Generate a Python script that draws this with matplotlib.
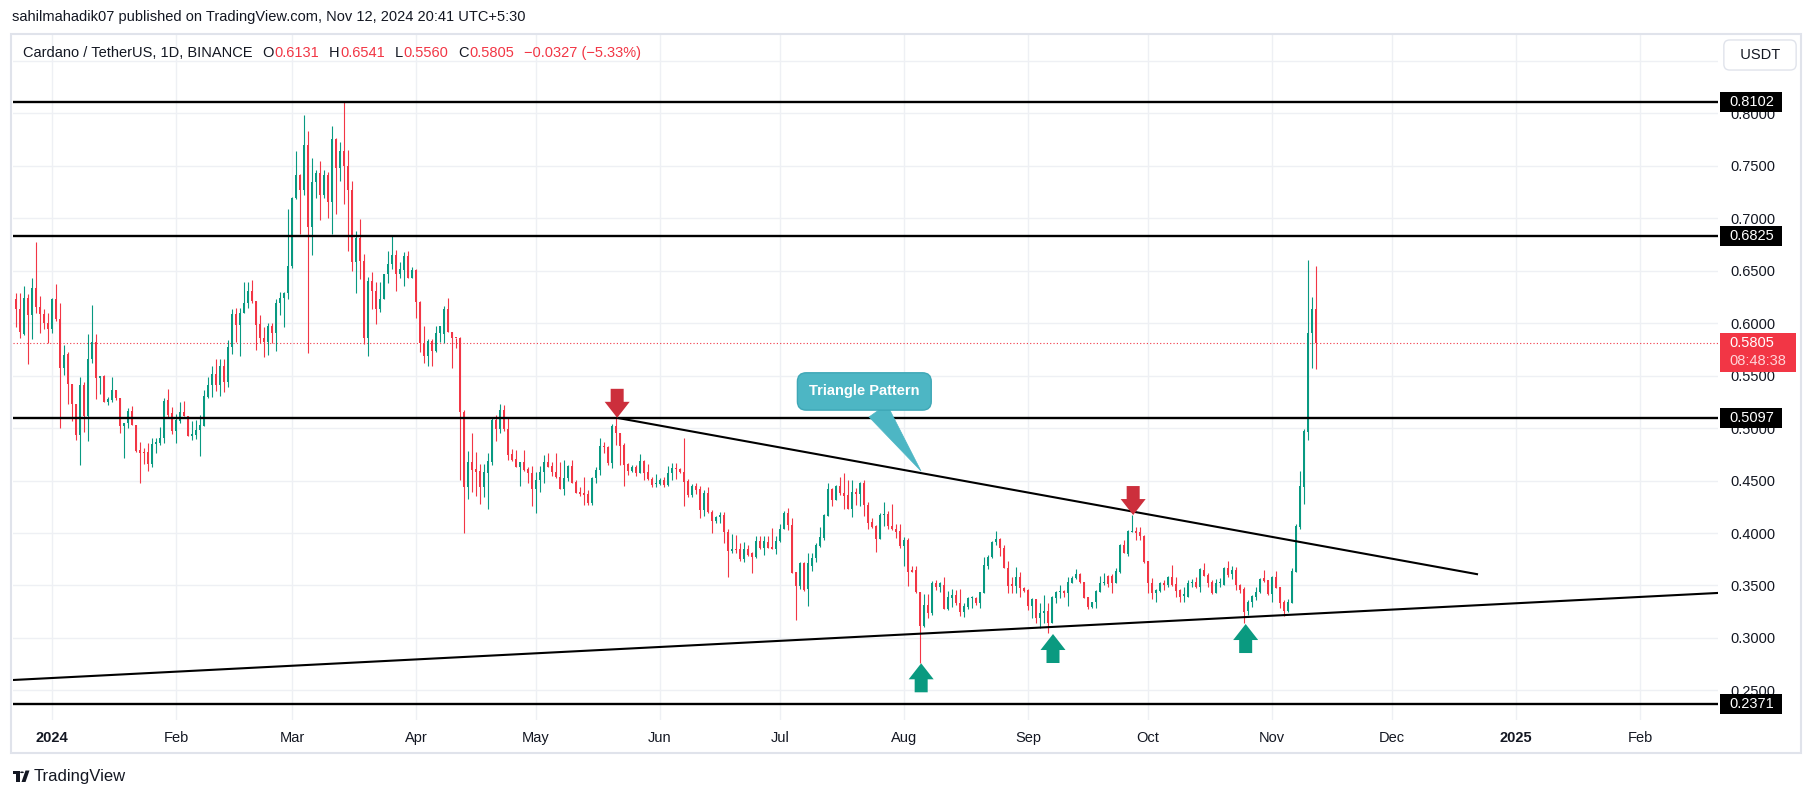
import numpy as np
import pandas as pd
import matplotlib
matplotlib.use('Agg')
import matplotlib.pyplot as plt
import matplotlib.transforms as mtransforms
from matplotlib.patches import Rectangle, Polygon, Circle

plt.rcParams['font.family'] = ['Liberation Sans', 'DejaVu Sans']

# ADA/USDT daily candles, 23 Dec 2023 .. 12 Nov 2024
start_date = '2023-12-23'
opens = [
    0.6229, 0.6133, 0.5895, 0.6235, 0.6076, 0.6330, 0.6156, 0.6083, 0.6003, 0.5940,
    0.6229, 0.6038, 0.5568, 0.5705, 0.5416, 0.5225, 0.4937, 0.5410, 0.5117, 0.5657,
    0.5816, 0.5473, 0.5495, 0.5251, 0.5267, 0.5362, 0.5283, 0.5022, 0.5044, 0.5165,
    0.5032, 0.4790, 0.4771, 0.4771, 0.4657, 0.4848, 0.4860, 0.4905, 0.5267, 0.5146,
    0.4975, 0.5070, 0.5156, 0.5117, 0.4927, 0.4937, 0.4981, 0.5022, 0.5298, 0.5410,
    0.5514, 0.5410, 0.5594, 0.5441, 0.5768, 0.6086, 0.5981, 0.6092, 0.6187, 0.6305,
    0.6213, 0.5990, 0.5860, 0.5822, 0.5971, 0.5908, 0.6194, 0.6241, 0.6289, 0.6543,
    0.7194, 0.7410, 0.7267, 0.7695, 0.6917, 0.7340, 0.7425, 0.7219, 0.7410, 0.7156,
    0.7752, 0.7473, 0.7641, 0.7495, 0.7267, 0.6584, 0.6813, 0.6590, 0.5860, 0.6400,
    0.6305, 0.6133, 0.6229, 0.6467, 0.6562, 0.6648, 0.6467, 0.6505, 0.6638, 0.6432,
    0.6505, 0.6203, 0.5806, 0.5689, 0.5829, 0.5733, 0.5908, 0.5892, 0.6130, 0.5917,
    0.5860, 0.5854, 0.5155, 0.4441, 0.4673, 0.4606, 0.4590, 0.4441, 0.4574, 0.4679,
    0.5076, 0.4987, 0.5171, 0.4993, 0.4749, 0.4701, 0.4625, 0.4673, 0.4606, 0.4574,
    0.4416, 0.4504, 0.4578, 0.4680, 0.4638, 0.4581, 0.4536, 0.4416, 0.4527, 0.4641,
    0.4489, 0.4387, 0.4378, 0.4371, 0.4282, 0.4521, 0.4600, 0.4828, 0.4822, 0.4670,
    0.5022, 0.4949, 0.4838, 0.4654, 0.4593, 0.4632, 0.4575, 0.4685, 0.4581, 0.4517,
    0.4467, 0.4467, 0.4504, 0.4457, 0.4568, 0.4622, 0.4609, 0.4584, 0.4495, 0.4362,
    0.4451, 0.4416, 0.4219, 0.4384, 0.4203, 0.4117, 0.4149, 0.4171, 0.4013, 0.3832,
    0.3851, 0.3848, 0.3752, 0.3848, 0.3813, 0.3775, 0.3924, 0.3854, 0.3917, 0.3870,
    0.3848, 0.3924, 0.4035, 0.4194, 0.4076, 0.3632, 0.3498, 0.3717, 0.3464, 0.3686,
    0.3759, 0.3876, 0.3949, 0.4162, 0.4419, 0.4314, 0.4448, 0.4378, 0.4362, 0.4229,
    0.4394, 0.4371, 0.4479, 0.4267, 0.4108, 0.4070, 0.3943, 0.4171, 0.4178, 0.4070,
    0.4038, 0.4019, 0.3880, 0.3933, 0.3648, 0.3648, 0.3441, 0.3114, 0.3314, 0.3241,
    0.3527, 0.3483, 0.3500, 0.3276, 0.3384, 0.3410, 0.3330, 0.3251, 0.3298, 0.3378,
    0.3384, 0.3330, 0.3425, 0.3689, 0.3775, 0.3914, 0.3946, 0.3854, 0.3670, 0.3510,
    0.3498, 0.3584, 0.3479, 0.3457, 0.3308, 0.3371, 0.3187, 0.3241, 0.3257, 0.3146,
    0.3384, 0.3441, 0.3451, 0.3425, 0.3521, 0.3571, 0.3610, 0.3537, 0.3394, 0.3298,
    0.3340, 0.3441, 0.3521, 0.3591, 0.3594, 0.3521, 0.3632, 0.3886, 0.3800, 0.4013,
    0.4019, 0.4013, 0.3971, 0.3733, 0.3527, 0.3432, 0.3451, 0.3527, 0.3505, 0.3584,
    0.3514, 0.3454, 0.3400, 0.3394, 0.3527, 0.3537, 0.3483, 0.3648, 0.3600, 0.3537,
    0.3425, 0.3521, 0.3505, 0.3664, 0.3606, 0.3648, 0.3505, 0.3464, 0.3260, 0.3340,
    0.3394, 0.3441, 0.3575, 0.3552, 0.3416, 0.3584, 0.3489, 0.3346, 0.3260, 0.3337,
    0.3626, 0.4054, 0.4441, 0.4965, 0.5902, 0.6131,
]
highs = [
    0.6283, 0.6283, 0.6352, 0.6273, 0.6425, 0.6768, 0.6257, 0.6130, 0.6092, 0.6241,
    0.6371, 0.6187, 0.5790, 0.5721, 0.5416, 0.5225, 0.5489, 0.5435, 0.5895, 0.6171,
    0.5895, 0.5495, 0.5505, 0.5298, 0.5483, 0.5362, 0.5290, 0.5051, 0.5187, 0.5213,
    0.5032, 0.4863, 0.4813, 0.4854, 0.4908, 0.4908, 0.5013, 0.5289, 0.5371, 0.5197,
    0.5133, 0.5251, 0.5260, 0.5117, 0.5070, 0.5076, 0.5124, 0.5362, 0.5489, 0.5594,
    0.5657, 0.5657, 0.5657, 0.5838, 0.6130, 0.6140, 0.6140, 0.6394, 0.6394, 0.6410,
    0.6213, 0.6076, 0.5965, 0.5997, 0.5997, 0.6225, 0.6298, 0.6298, 0.7086, 0.7203,
    0.7641, 0.7419, 0.7981, 0.7829, 0.7568, 0.7457, 0.7543, 0.7457, 0.7441, 0.7876,
    0.7765, 0.7727, 0.8102, 0.7648, 0.7356, 0.6876, 0.6990, 0.6657, 0.6441, 0.6483,
    0.6387, 0.6394, 0.6467, 0.6686, 0.6838, 0.6695, 0.6578, 0.6679, 0.6686, 0.6537,
    0.6514, 0.6213, 0.5971, 0.5845, 0.5845, 0.5971, 0.5971, 0.6162, 0.6235, 0.5917,
    0.5860, 0.5870, 0.5170, 0.4781, 0.4949, 0.4774, 0.4654, 0.4654, 0.4758, 0.5092,
    0.5124, 0.5228, 0.5219, 0.5098, 0.4797, 0.4790, 0.4680, 0.4790, 0.4630, 0.4638,
    0.4584, 0.4638, 0.4743, 0.4758, 0.4680, 0.4758, 0.4680, 0.4695, 0.4648, 0.4695,
    0.4504, 0.4441, 0.4536, 0.4409, 0.4536, 0.4630, 0.4901, 0.4870, 0.4828, 0.5035,
    0.5097, 0.4955, 0.4854, 0.4663, 0.4648, 0.4648, 0.4749, 0.4695, 0.4654, 0.4536,
    0.4562, 0.4521, 0.4536, 0.4638, 0.4663, 0.4670, 0.4622, 0.4901, 0.4510, 0.4467,
    0.4473, 0.4448, 0.4409, 0.4441, 0.4219, 0.4162, 0.4203, 0.4203, 0.4035, 0.3987,
    0.3980, 0.3902, 0.3917, 0.3886, 0.3822, 0.3975, 0.3971, 0.3971, 0.3971, 0.4044,
    0.3971, 0.4083, 0.4210, 0.4235, 0.4140, 0.3632, 0.3727, 0.3727, 0.3813, 0.3813,
    0.3902, 0.4054, 0.4181, 0.4473, 0.4425, 0.4457, 0.4537, 0.4568, 0.4505, 0.4505,
    0.4425, 0.4489, 0.4505, 0.4298, 0.4140, 0.4076, 0.4194, 0.4298, 0.4210, 0.4276,
    0.4083, 0.4083, 0.3959, 0.3956, 0.3686, 0.3686, 0.3441, 0.3416, 0.3416, 0.3546,
    0.3552, 0.3537, 0.3578, 0.3451, 0.3464, 0.3457, 0.3464, 0.3337, 0.3394, 0.3403,
    0.3394, 0.3441, 0.3775, 0.3791, 0.3924, 0.4019, 0.3956, 0.3886, 0.3733, 0.3584,
    0.3679, 0.3632, 0.3489, 0.3464, 0.3378, 0.3371, 0.3330, 0.3410, 0.3330, 0.3403,
    0.3448, 0.3505, 0.3457, 0.3584, 0.3594, 0.3654, 0.3616, 0.3537, 0.3394, 0.3346,
    0.3457, 0.3591, 0.3616, 0.3600, 0.3606, 0.3670, 0.3892, 0.3933, 0.4029, 0.4171,
    0.4060, 0.4054, 0.3981, 0.3733, 0.3568, 0.3464, 0.3537, 0.3552, 0.3594, 0.3695,
    0.3584, 0.3464, 0.3490, 0.3552, 0.3559, 0.3584, 0.3664, 0.3717, 0.3622, 0.3552,
    0.3559, 0.3575, 0.3679, 0.3733, 0.3686, 0.3679, 0.3510, 0.3489, 0.3362, 0.3410,
    0.3489, 0.3575, 0.3648, 0.3552, 0.3591, 0.3641, 0.3489, 0.3362, 0.3368, 0.3664,
    0.4083, 0.4591, 0.4991, 0.6600, 0.6245, 0.6541,
]
lows = [
    0.5965, 0.5854, 0.5886, 0.5606, 0.5844, 0.6098, 0.5908, 0.5940, 0.5806, 0.5908,
    0.6022, 0.5003, 0.5502, 0.5225, 0.5070, 0.4886, 0.4648, 0.4965, 0.4879, 0.5616,
    0.5279, 0.5321, 0.5244, 0.5219, 0.5244, 0.5267, 0.4956, 0.4717, 0.4997, 0.5032,
    0.4775, 0.4479, 0.4654, 0.4594, 0.4632, 0.4759, 0.4838, 0.4860, 0.5098, 0.4943,
    0.4860, 0.5051, 0.5117, 0.4927, 0.4886, 0.4892, 0.4733, 0.5022, 0.5283, 0.5298,
    0.5356, 0.5308, 0.5340, 0.5394, 0.5705, 0.5822, 0.5689, 0.6092, 0.6140, 0.6194,
    0.5743, 0.5806, 0.5679, 0.5695, 0.5813, 0.5737, 0.6076, 0.5965, 0.6225, 0.6521,
    0.7178, 0.6848, 0.7219, 0.5717, 0.6648, 0.7187, 0.6981, 0.7187, 0.7003, 0.6848,
    0.7038, 0.7356, 0.7133, 0.6686, 0.6498, 0.6289, 0.6416, 0.5800, 0.5689, 0.6133,
    0.5990, 0.6102, 0.6229, 0.6378, 0.6514, 0.6308, 0.6425, 0.6356, 0.6425, 0.6432,
    0.6051, 0.5727, 0.5616, 0.5594, 0.5594, 0.5727, 0.5822, 0.5813, 0.5917, 0.5575,
    0.5759, 0.4504, 0.4003, 0.4323, 0.4393, 0.4352, 0.4276, 0.4346, 0.4228, 0.4648,
    0.4876, 0.4949, 0.4971, 0.4695, 0.4689, 0.4625, 0.4448, 0.4594, 0.4473, 0.4257,
    0.4193, 0.4393, 0.4473, 0.4625, 0.4540, 0.4521, 0.4416, 0.4362, 0.4498, 0.4473,
    0.4378, 0.4352, 0.4267, 0.4267, 0.4267, 0.4473, 0.4552, 0.4758, 0.4648, 0.4622,
    0.4838, 0.4647, 0.4451, 0.4552, 0.4584, 0.4546, 0.4568, 0.4504, 0.4504, 0.4441,
    0.4441, 0.4457, 0.4441, 0.4448, 0.4504, 0.4511, 0.4568, 0.4257, 0.4346, 0.4346,
    0.4375, 0.4140, 0.4162, 0.4194, 0.4003, 0.4092, 0.4092, 0.3908, 0.3584, 0.3813,
    0.3810, 0.3733, 0.3721, 0.3781, 0.3622, 0.3765, 0.3844, 0.3790, 0.3854, 0.3844,
    0.3797, 0.3917, 0.4035, 0.4029, 0.3616, 0.3171, 0.3464, 0.3448, 0.3305, 0.3638,
    0.3727, 0.3864, 0.3933, 0.4162, 0.4257, 0.4314, 0.4362, 0.4225, 0.4225, 0.4156,
    0.4267, 0.4257, 0.4162, 0.4035, 0.4044, 0.3822, 0.3943, 0.4070, 0.4035, 0.4029,
    0.3949, 0.3854, 0.3686, 0.3495, 0.3625, 0.3432, 0.2759, 0.3108, 0.3187, 0.3219,
    0.3457, 0.3441, 0.3273, 0.3267, 0.3292, 0.3314, 0.3209, 0.3203, 0.3273, 0.3283,
    0.3314, 0.3283, 0.3425, 0.3654, 0.3759, 0.3886, 0.3781, 0.3664, 0.3432, 0.3425,
    0.3425, 0.3394, 0.3441, 0.3267, 0.3187, 0.3146, 0.3092, 0.3140, 0.3044, 0.3146,
    0.3330, 0.3378, 0.3394, 0.3308, 0.3521, 0.3565, 0.3521, 0.3384, 0.3273, 0.3283,
    0.3289, 0.3441, 0.3505, 0.3489, 0.3432, 0.3521, 0.3616, 0.3806, 0.3784, 0.4013,
    0.3933, 0.3933, 0.3717, 0.3425, 0.3368, 0.3340, 0.3441, 0.3457, 0.3489, 0.3498,
    0.3394, 0.3346, 0.3340, 0.3394, 0.3489, 0.3473, 0.3435, 0.3594, 0.3490, 0.3419,
    0.3425, 0.3490, 0.3505, 0.3584, 0.3559, 0.3457, 0.3432, 0.3140, 0.3219, 0.3298,
    0.3362, 0.3432, 0.3537, 0.3410, 0.3346, 0.3473, 0.3283, 0.3209, 0.3251, 0.3337,
    0.3626, 0.4038, 0.4276, 0.4886, 0.5575, 0.5560,
]
closes = [
    0.6130, 0.5917, 0.6235, 0.6076, 0.6330, 0.6156, 0.6083, 0.6003, 0.5940, 0.6229,
    0.6038, 0.5568, 0.5695, 0.5416, 0.5225, 0.4937, 0.5410, 0.5117, 0.5657, 0.5816,
    0.5473, 0.5495, 0.5251, 0.5276, 0.5362, 0.5283, 0.5022, 0.5051, 0.5165, 0.5032,
    0.4784, 0.4765, 0.4765, 0.4657, 0.4848, 0.4870, 0.4908, 0.5260, 0.5124, 0.4975,
    0.5076, 0.5156, 0.5117, 0.4927, 0.4943, 0.4981, 0.5029, 0.5305, 0.5410, 0.5514,
    0.5410, 0.5594, 0.5441, 0.5768, 0.6086, 0.5981, 0.6092, 0.6187, 0.6305, 0.6213,
    0.5981, 0.5854, 0.5822, 0.5971, 0.5908, 0.6194, 0.6241, 0.6289, 0.6543, 0.7194,
    0.7410, 0.7267, 0.7695, 0.6917, 0.7340, 0.7425, 0.7219, 0.7410, 0.7156, 0.7752,
    0.7473, 0.7641, 0.7495, 0.7267, 0.6584, 0.6813, 0.6590, 0.5860, 0.6400, 0.6305,
    0.6133, 0.6229, 0.6467, 0.6562, 0.6648, 0.6467, 0.6514, 0.6638, 0.6432, 0.6505,
    0.6203, 0.5806, 0.5689, 0.5829, 0.5733, 0.5908, 0.5971, 0.6130, 0.5917, 0.5860,
    0.5854, 0.5155, 0.4441, 0.4673, 0.4600, 0.4584, 0.4441, 0.4581, 0.4685, 0.5076,
    0.4987, 0.5171, 0.4987, 0.4743, 0.4695, 0.4625, 0.4673, 0.4600, 0.4568, 0.4416,
    0.4504, 0.4578, 0.4673, 0.4632, 0.4578, 0.4530, 0.4416, 0.4527, 0.4641, 0.4479,
    0.4384, 0.4371, 0.4362, 0.4282, 0.4521, 0.4600, 0.4828, 0.4816, 0.4670, 0.5022,
    0.4949, 0.4832, 0.4648, 0.4593, 0.4632, 0.4575, 0.4685, 0.4575, 0.4511, 0.4457,
    0.4479, 0.4504, 0.4457, 0.4568, 0.4622, 0.4609, 0.4584, 0.4489, 0.4362, 0.4451,
    0.4413, 0.4219, 0.4384, 0.4203, 0.4117, 0.4149, 0.4171, 0.4013, 0.3832, 0.3851,
    0.3835, 0.3752, 0.3848, 0.3790, 0.3775, 0.3924, 0.3854, 0.3924, 0.3860, 0.3848,
    0.3924, 0.4038, 0.4194, 0.4076, 0.3622, 0.3498, 0.3717, 0.3457, 0.3711, 0.3765,
    0.3886, 0.3965, 0.4171, 0.4419, 0.4314, 0.4448, 0.4378, 0.4352, 0.4229, 0.4394,
    0.4371, 0.4479, 0.4267, 0.4098, 0.4060, 0.3943, 0.4171, 0.4178, 0.4070, 0.4035,
    0.4013, 0.3880, 0.3933, 0.3632, 0.3632, 0.3441, 0.3114, 0.3314, 0.3241, 0.3527,
    0.3483, 0.3527, 0.3276, 0.3394, 0.3410, 0.3330, 0.3251, 0.3305, 0.3378, 0.3384,
    0.3330, 0.3435, 0.3695, 0.3775, 0.3914, 0.3946, 0.3854, 0.3664, 0.3498, 0.3495,
    0.3584, 0.3473, 0.3448, 0.3308, 0.3371, 0.3187, 0.3241, 0.3257, 0.3146, 0.3394,
    0.3441, 0.3451, 0.3425, 0.3530, 0.3575, 0.3610, 0.3537, 0.3384, 0.3298, 0.3340,
    0.3448, 0.3521, 0.3530, 0.3514, 0.3521, 0.3638, 0.3886, 0.3806, 0.4019, 0.4019,
    0.3997, 0.3971, 0.3727, 0.3521, 0.3432, 0.3457, 0.3527, 0.3505, 0.3584, 0.3505,
    0.3448, 0.3394, 0.3416, 0.3527, 0.3537, 0.3490, 0.3654, 0.3594, 0.3521, 0.3425,
    0.3521, 0.3530, 0.3664, 0.3600, 0.3648, 0.3505, 0.3457, 0.3251, 0.3346, 0.3400,
    0.3441, 0.3562, 0.3546, 0.3416, 0.3584, 0.3479, 0.3337, 0.3260, 0.3346, 0.3641,
    0.4070, 0.4448, 0.4975, 0.5902, 0.6131, 0.5805,
]

# drawn levels and trendlines
levels = [0.8102, 0.6825, 0.5097, 0.2371]
last_price = 0.5805
upper_trend_dates = ['2024-05-21 06:00', '2024-12-22 06:00']
upper_trend_prices = [0.5097, 0.3608]
lower_trend_dates = ['2023-12-22 06:00', '2025-02-20 12:00']
lower_trend_prices = [0.2600, 0.3429]
res_arrows = [('2024-05-21 07:00', 0.5097), ('2024-09-27 07:00', 0.4171)]
sup_arrows = [('2024-08-05 07:00', 0.2759), ('2024-09-07 06:00', 0.3038), ('2024-10-25 10:00', 0.3133)]
callout_tip = ('2024-08-05 06:00', 0.4590)
callout_box = ('2024-07-22 02:00', 0.5348)

TXT = '#131722'
GREEN = '#089981'
RED = '#f23645'
W, H = 1814, 798
base = pd.Timestamp('2024-01-01')


def day(d):
    return (pd.Timestamp(d) - base) / pd.Timedelta(days=1)


def fx(px):
    return px / W


def fy(py):
    return 1 - py / H


o = np.array(opens)
h = np.array(highs)
l = np.array(lows)
c = np.array(closes)
dates = pd.date_range(start_date, periods=len(closes), freq='D')
x = np.asarray((dates - base).days, dtype=float)

fig = plt.figure(figsize=(W / 100, H / 100), dpi=100)
ax = fig.add_axes([fx(13), fy(720), fx(1705), (720 - 35) / H])
ax.set_xlim(-9.75, 416.5)
ax.set_ylim(0.2219, 0.8743)

# candles
col = np.where(c >= o, GREEN, RED)
ax.vlines(x, l, h, colors=col, lw=0.8, zorder=3)
ax.bar(x, np.maximum(np.abs(c - o), 0.0008), bottom=np.minimum(o, c),
       width=0.72, color=col, lw=0, zorder=3)

ax.axhline(last_price, color=RED, lw=0.8, ls=(0, (1, 2)), zorder=2)
for lv in levels:
    ax.axhline(lv, color='black', lw=1.7, zorder=4)
ax.plot([day(d) for d in upper_trend_dates], upper_trend_prices, color='black', lw=1.5, zorder=4)
ax.plot([day(d) for d in lower_trend_dates], lower_trend_prices, color='black', lw=1.5, zorder=4)

# axes styling
for s in ax.spines.values():
    s.set_visible(False)
ax.set_axisbelow(True)
ax.grid(True, color='#eef0f4', lw=1)
yt = np.round(np.arange(0.25, 0.851, 0.05), 2)
ax.yaxis.tick_right()
ax.set_yticks(yt)
ax.set_yticklabels(['%.4f' % v if v < 0.84 else '' for v in yt])
ax.tick_params(axis='y', length=0, pad=8.6, labelsize=10.5, labelcolor=TXT)
months = pd.date_range('2024-01-01', '2025-02-01', freq='MS')
ax.set_xticks([day(m) for m in months])
ax.set_xticklabels([str(m.year) if m.month == 1 else m.strftime('%b') for m in months])
ax.tick_params(axis='x', length=0, pad=8, labelsize=10.5, labelcolor=TXT)
for t in ax.get_xticklabels():
    if t.get_text() in ('2024', '2025'):
        t.set_fontweight('bold')

# price tags on the scale
tag_tr = mtransforms.blended_transform_factory(ax.transAxes, ax.transData)
ax_x = lambda px: (px - 13) / 1705
hh = 20 / 1050
for lv in levels:
    ax.add_patch(Rectangle((ax_x(1720), lv - hh / 2), 62 / 1705, hh, transform=tag_tr,
                           fc='black', ec='none', clip_on=False, zorder=8))
    ax.text(ax_x(1729), lv, '%.4f' % lv, transform=tag_tr, ha='left', va='center',
            color='white', fontsize=10.5, clip_on=False, zorder=9)
ax.add_patch(Rectangle((ax_x(1720), 0.5533), 76 / 1705, 0.0372, transform=tag_tr,
                       fc=RED, ec='none', clip_on=False, zorder=8))
ax.text(ax_x(1729), last_price, '%.4f' % last_price, transform=tag_tr, ha='left',
        va='center', color='white', fontsize=10.5, clip_on=False, zorder=9)
ax.text(ax_x(1729), 0.5638, '08:48:38', transform=tag_tr, ha='left', va='center',
        color='#ffd4d8', fontsize=10.5, clip_on=False, zorder=9)

# callout
ax.annotate('Triangle Pattern', xy=(day(callout_tip[0]), callout_tip[1]),
            xytext=(day(callout_box[0]), callout_box[1]), ha='center', va='center',
            color='white', fontsize=10.5, fontweight='bold', zorder=7,
            bbox=dict(boxstyle='round,pad=0.8,rounding_size=0.6', fc='#4db6c4', ec='#3ea7b6', lw=1),
            arrowprops=dict(arrowstyle='wedge,tail_width=1.5,shrink_factor=0.5',
                            fc='#4db6c4', ec='#4db6c4', lw=0.5, shrinkA=0, shrinkB=0))


def block_arrow(xd, yd, color, down):
    tip = ax.transData.transform((xd, yd))
    sgn = 1 if down else -1
    pts = np.array([(0, 0), (-12.5, 16), (-6.5, 16), (-6.5, 29), (6.5, 29), (6.5, 16), (12.5, 16)], float)
    pts[:, 1] *= sgn
    verts = ax.transData.inverted().transform(tip + pts)
    ax.add_patch(Polygon(verts, closed=True, fc=color, ec='none', zorder=6, clip_on=False))


for d, p in res_arrows:
    block_arrow(day(d), p, '#cc2f3c', True)
for d, p in sup_arrows:
    block_arrow(day(d), p, '#0a9a80', False)

# chrome
fig.add_artist(Rectangle((fx(11), fy(753)), (1801 - 11) / W, (753 - 34) / H,
                         transform=fig.transFigure, fill=False, ec='#e0e3eb', lw=1.5))
fig.text(fx(12), fy(17), 'sahilmahadik07 published on TradingView.com, Nov 12, 2024 20:41 UTC+5:30',
         ha='left', va='center', fontsize=10.5, color=TXT)
fig.text(fx(1760), fy(55), '  USDT  ', ha='center', va='center', fontsize=10.5, color=TXT,
         bbox=dict(boxstyle='round,pad=0.55,rounding_size=0.4', fc='white', ec='#e0e3eb', lw=1))

parts = [('Cardano / TetherUS, 1D, BINANCE', TXT, 0), ('O', TXT, 7), ('0.6131', RED, 0.5),
         ('H', TXT, 7), ('0.6541', RED, 0.5), ('L', TXT, 7), ('0.5560', RED, 0.5),
         ('C', TXT, 7), ('0.5805', RED, 0.5), ('\u22120.0327 (\u22125.33%)', RED, 7)]
prev = fig.text(fx(23), fy(53), parts[0][0], ha='left', va='center', fontsize=10.5, color=parts[0][1])
for s, cl, gap in parts[1:]:
    prev = ax.annotate(s, xy=(1, 0.5), xycoords=prev, xytext=(gap, 0), textcoords='offset points',
                       ha='left', va='center', fontsize=10.5, color=cl, annotation_clip=False)

# TradingView footer logo
ftr = fig.transFigure
fig.add_artist(Rectangle((fx(12.5), fy(774)), 7 / W, 3.5 / H, transform=ftr, fc=TXT, ec='none'))
fig.add_artist(Rectangle((fx(16), fy(782)), 3.5 / W, 11.5 / H, transform=ftr, fc=TXT, ec='none'))
fig.add_artist(Circle((fx(22), fy(772.3)), 1.9 / W, transform=ftr, fc=TXT, ec='none'))
fig.add_artist(Polygon([(fx(21.5), fy(782)), (fx(25.5), fy(782)), (fx(29.5), fy(770.5)),
                        (fx(25.5), fy(770.5))], closed=True, transform=ftr, fc=TXT, ec='none'))
fig.text(fx(34), fy(776), 'TradingView', ha='left', va='center', fontsize=12, color=TXT)

fig.savefig('out.png', dpi=100, facecolor='white')
